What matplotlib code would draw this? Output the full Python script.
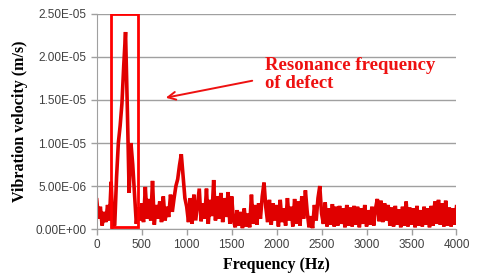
import numpy as np
import matplotlib.pyplot as plt
from matplotlib.patches import Rectangle

# spectrum, 20 Hz steps, values in 1e-6 m/s
freq_step = 20
velocity_e6 = [
    3.4, 1.2, 2.6, 0.4, 2.0,
    0.8, 2.8, 1.0, 5.5, 0.3,
    0.5, 6.0, 10.0, 12.0, 14.6,
    19.0, 22.9, 14.0, 4.2, 10.0,
    7.5, 4.0, 0.6, 2.5, 1.0,
    3.0, 0.8, 4.9, 1.2, 3.5,
    1.0, 5.6, 0.5, 2.8, 1.2,
    3.2, 0.8, 3.8, 1.0, 2.6,
    1.4, 4.0, 2.0, 3.6, 5.0,
    5.8, 7.4, 8.7, 6.2, 3.6,
    2.6, 0.8, 3.6, 0.6, 4.0,
    1.0, 2.8, 4.7, 0.9, 3.0,
    1.2, 4.7, 0.6, 3.4, 1.5,
    5.7, 1.0, 3.8, 1.2, 4.2,
    0.8, 3.6, 1.4, 4.3, 0.6,
    3.8, 1.0, 0.2, 2.2, 0.4,
    2.0, 0.1, 2.4, 0.3, 1.8,
    0.2, 4.0, 0.6, 2.8, 0.5,
    3.0, 1.2, 3.8, 5.4, 2.5,
    0.8, 3.4, 0.5, 3.0, 1.0,
    2.8, 0.3, 3.4, 0.8, 2.4,
    0.4, 3.6, 1.0, 2.6, 0.3,
    3.5, 0.6, 3.2, 0.4, 3.8,
    1.2, 4.5, 2.0, 0.2, 1.5,
    0.1, 2.8, 1.0, 3.6, 5.0,
    1.8, 0.6, 3.1, 0.3, 2.4,
    0.5, 2.9, 0.3, 2.6, 0.4,
    2.7, 0.6, 2.4, 0.2, 2.8,
    0.4, 2.5, 0.3, 2.7, 0.5,
    2.6, 0.2, 2.4, 0.6, 2.8,
    0.3, 2.2, 0.5, 2.6, 0.4,
    2.4, 3.5, 0.9, 3.3, 0.8,
    3.0, 1.0, 2.8, 0.4, 2.5,
    0.3, 2.7, 0.5, 2.3, 0.2,
    2.6, 0.4, 3.2, 0.3, 2.5,
    0.5, 2.4, 0.2, 2.7, 0.4,
    2.2, 0.3, 2.6, 0.5, 2.4,
    0.2, 2.7, 0.4, 3.2, 0.6,
    3.4, 0.5, 3.0, 0.3, 3.3,
    0.4, 2.5, 0.3, 2.4, 0.5, 2.6,
]
box_f = [155, 463]
arrow_tail = (1759, 1.73e-5)
arrow_head = (737, 1.52e-5)
note = "Resonance frequency\nof defect"

x_ticks = [0, 500, 1000, 1500, 2000, 2500, 3000, 3500, 4000]
y_ticks = [0, 5e-6, 1e-5, 1.5e-5, 2e-5, 2.5e-5]
y_labels = ["0.00E+00", "5.00E-06", "1.00E-05", "1.50E-05", "2.00E-05", "2.50E-05"]

freq = np.arange(len(velocity_e6)) * freq_step
vel = np.array(velocity_e6) * 1e-6

fig = plt.figure(figsize=(4.79, 2.79), dpi=100)
ax = fig.add_axes([0.202, 0.179, 0.751, 0.771])

ax.plot(freq, vel, color="#e00000", lw=2.6, solid_joinstyle="miter")
ax.add_patch(Rectangle((box_f[0], 0.02e-5), box_f[1] - box_f[0], 2.48e-5,
                       fill=False, edgecolor="#ff0000", lw=2.0, zorder=4))

ax.annotate("", xy=arrow_head, xytext=arrow_tail,
            arrowprops=dict(arrowstyle="->", color="#ee1111", lw=1.4,
                            mutation_scale=14))
ax.text(1870, 2.0e-5, note, color="#ee1111", fontsize=13.5, fontweight="bold",
        family="Liberation Serif", va="top", ha="left", linespacing=1.1)

ax.set_xlim(0, 4000)
ax.set_ylim(0, 2.5e-5)
ax.set_xticks(x_ticks)
ax.set_yticks(y_ticks)
ax.set_yticklabels(y_labels)
ax.yaxis.grid(True, color="#a0a0a0", lw=1.0)
ax.set_axisbelow(True)
for s in ["top", "right"]:
    ax.spines[s].set_visible(False)
for s in ["left", "bottom"]:
    ax.spines[s].set_color("#a0a0a0")
ax.tick_params(colors="#a0a0a0", labelcolor="#404040", length=4, width=1,
               labelsize=8.5)
for lab in ax.get_xticklabels() + ax.get_yticklabels():
    lab.set_family("Liberation Sans")

ax.set_xlabel("Frequency (Hz)", family="Liberation Serif", fontweight="bold",
              fontsize=11.5, labelpad=4)
ax.set_ylabel("Vibration velocity (m/s)", family="Liberation Serif",
              fontweight="bold", fontsize=11.5, labelpad=5)

fig.savefig("out.png", dpi=100)
